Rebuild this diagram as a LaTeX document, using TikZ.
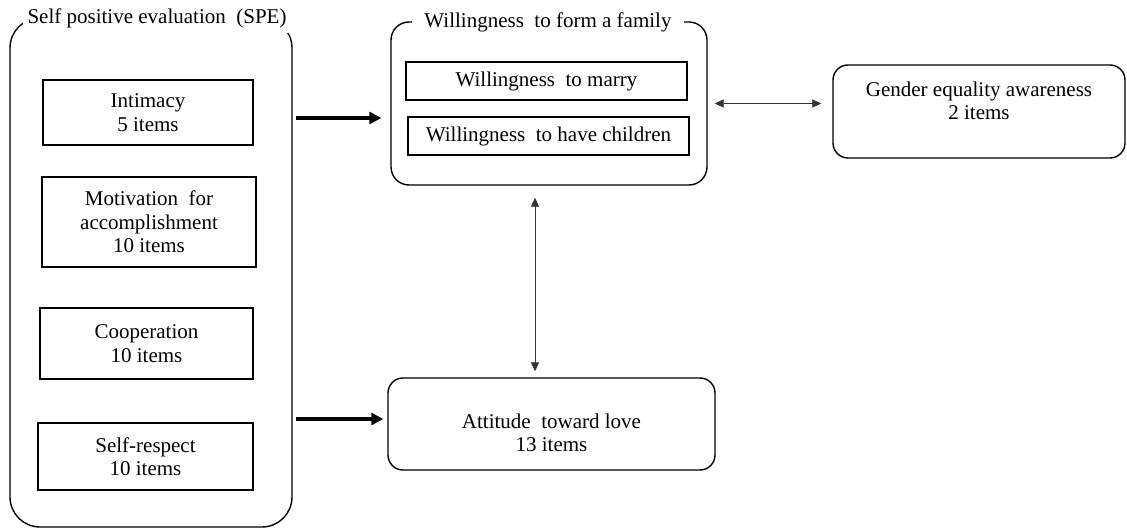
\documentclass[tikz,border=0pt]{standalone}
\usepackage{fontspec}
\setmainfont{Liberation Serif}
\newfontfamily\boxfont{Liberation Serif}
\usetikzlibrary{arrows.meta,positioning}

\begin{document}
\begin{tikzpicture}[x=1pt, y=-1pt,
    every node/.style={font=\boxfont\fontsize{21}{23.5}\selectfont, align=center, inner sep=0pt},
    item/.style={draw, line width=1.4pt},
    group/.style={draw, line width=1.4pt, rounded corners=#1},
    title/.style={fill=white, inner xsep=#1, minimum height=30pt},
    bigarrow/.style={line width=3.6pt, -{Triangle[length=12pt,width=12pt]}},
    linkarrow/.style={line width=0.8pt, draw=black!80, {Triangle[length=9pt,width=8pt]}-{Triangle[length=9pt,width=8pt]}}]
    \useasboundingbox (0,0) rectangle (1127,529);
    % Self positive evaluation
    \node[group=30pt, minimum width=282pt, minimum height=509pt] (spe) at (151,272.5) {};
    \node[title=5pt] (spetitle) at (157,18) {Self positive evaluation~ (SPE)};
    \node[item, minimum width=210pt, minimum height=65pt] (intim) at (148,112.5) {Intimacy\\5 items};
    \node[item, minimum width=214pt, minimum height=90pt] (motiv) at (149,222) {Motivation~ for\\accomplishment\\10 items};
    \node[item, minimum width=213pt, minimum height=71pt] (coop) at (146.5,343.5) {Cooperation\\10 items};
    \node[item, minimum width=215pt, minimum height=67pt] (resp) at (145.5,456.5) {Self-respect\\10 items};
    % Willingness to form a family
    \node[group=18pt, minimum width=316pt, minimum height=163pt] (family) at (549,103.5) {};
    \node[title=12pt] (familytitle) at (548,22) {Willingness~ to form a family};
    \node[item, minimum width=281pt, minimum height=38pt] (marry) at (546.5,81) {Willingness~ to marry};
    \node[item, minimum width=281pt, minimum height=38pt] (child) at (548.5,136) {Willingness~ to have children};
    % Gender equality awareness
    \node[group=15pt, minimum width=292pt, minimum height=93pt] (gender) at (979,111.5) {};
    \node[below=17pt of gender.north] (gendertxt) {Gender equality awareness\\2 items};
    % Attitude toward love
    \node[group=15pt, minimum width=327pt, minimum height=92pt] (attitude) at (551.5,424) {};
    \node[below=36pt of attitude.north] (attitudetxt) {Attitude~ toward love\\13 items};
    % Draw arrows
    \coordinate (a1) at (296,118);
    \coordinate (a2) at (296,419);
    \coordinate (v1) at (535,190);
    \draw[bigarrow, shorten >=9pt] (a1) -- (family.west |- a1);
    \draw[bigarrow, shorten >=4pt] (a2) -- (attitude.west |- a2);
    \draw[linkarrow, shorten <=7pt, shorten >=11pt] (family.east) -- (gender.west |- family.east);
    \draw[linkarrow, shorten <=12pt, shorten >=6pt] (family.south -| v1) -- (attitude.north -| v1);
\end{tikzpicture}
\end{document}
